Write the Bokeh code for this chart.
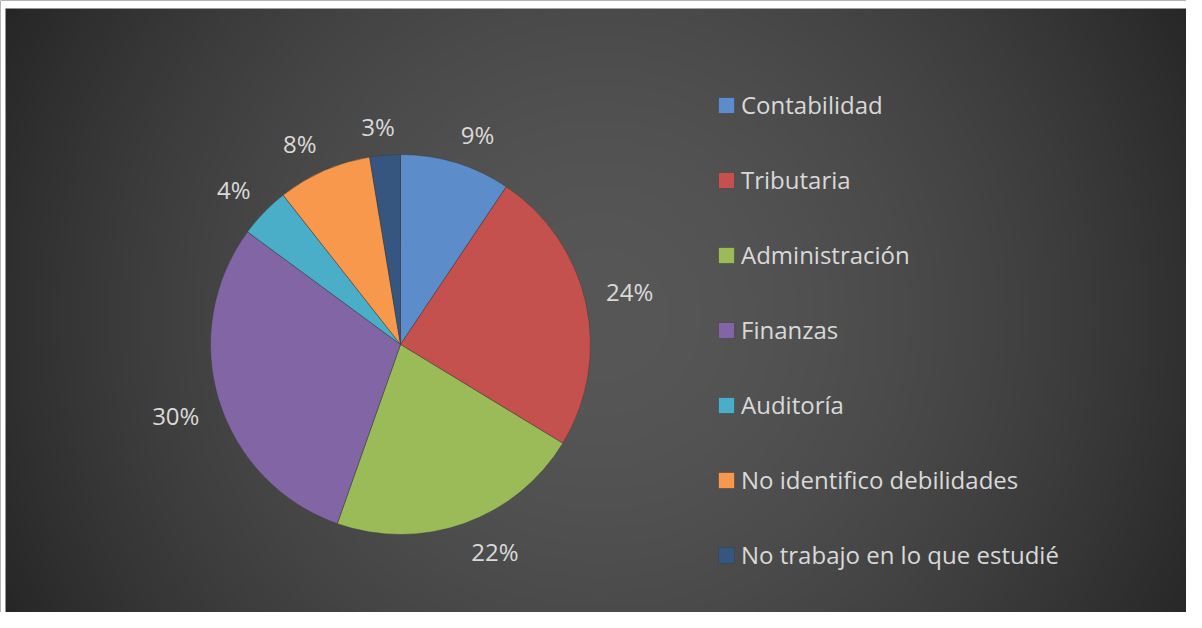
import numpy as np
from bokeh.plotting import figure
from bokeh.models import ColumnDataSource, Legend, LegendItem, Range1d
from bokeh.core.properties import value
from bokeh.embed import file_html
from bokeh.resources import INLINE

# ---- data ----
categories = ["Contabilidad", "Tributaria", "Administración", "Finanzas",
              "Auditoría", "No identifico debilidades", "No trabajo en lo que estudié"]
shares = [9.4, 24.3, 21.7, 29.7, 4.3, 8.0, 2.6]
colors = ["#5d8cca", "#c4514e", "#9bbb59", "#8165a4", "#4aaec8", "#f8984c", "#36567f"]

W, H = 1186, 612
FONT = "Open Sans"
TXT = "#d9d9d9"

p = figure(width=W, height=H, output_backend="svg", toolbar_location=None,
           x_range=Range1d(0, W), y_range=Range1d(0, H), min_border=0)
p.axis.visible = False
p.grid.visible = False
p.outline_line_color = None
p.background_fill_color = "#3a3a3a"
p.border_fill_color = "#3a3a3a"

# radial background gradient (decorative)
yy, xx = np.mgrid[0:H, 0:W]
gx, gy = 600, 297
d = np.sqrt((xx - gx) ** 2 + (yy - gy) ** 2)
v = 87 - 49 * np.clip(d / 670, 0, 1.2) ** 1.7
v = np.clip(v, 30, 90).astype(np.uint8)
img = np.zeros((H, W), dtype=np.uint32)
view = img.view(dtype=np.uint8).reshape((H, W, 4))
view[:, :, 0] = v
view[:, :, 1] = v
view[:, :, 2] = v
view[:, :, 3] = 255
view[:, :5, :3] = 255
view[H - 8:, :, :3] = 255
p.image_rgba(image=[img], x=0, y=0, dw=W, dh=H)

# pie geometry
cx, cy, R = 400, 268, 190
vals = np.array(shares, dtype=float)
frac = vals / vals.sum()
cum = np.concatenate([[0], np.cumsum(frac)])
start = np.pi / 2 - 2 * np.pi * cum[:-1]
end = np.pi / 2 - 2 * np.pi * cum[1:]
mid = (start + end) / 2
labels = [f"{round(s)}%" for s in vals]

# outside-end label placement: anchor on a ring, box pushed outward
ring = 210
ux, uy = np.cos(mid), np.sin(mid)
half_w = np.array([8.0 * len(t) for t in labels])
half_h = 9.0
lx = cx + ring * ux + half_w * np.clip(4 * ux, -1, 1)
ly = cy + ring * uy + half_h * np.clip(4 * uy, -1, 1)

src = ColumnDataSource(dict(cat=categories, color=colors, start=start, end=end,
                            lx=lx, ly=ly, label=labels))

wedges = p.wedge(x=cx, y=cy, radius=R, start_angle="start", end_angle="end",
                 direction="clock", fill_color="color", line_color="#3a3a3a",
                 line_alpha=0.6, line_width=0.8, source=src)

p.text(x="lx", y="ly", text="label", source=src, text_align="center",
       text_baseline="middle", text_font=value(FONT), text_font_size="24px",
       text_color=TXT)

items = [LegendItem(label=c, renderers=[wedges], index=i) for i, c in enumerate(categories)]
legend = Legend(items=items, location=(716, 41), orientation="vertical",
                padding=0, margin=0, spacing=42, glyph_width=20, glyph_height=20,
                label_standoff=5, label_text_font=FONT, label_text_font_size="24px",
                label_text_color=TXT, label_height=16,
                border_line_alpha=0, background_fill_alpha=0)
p.add_layout(legend)

open("out.html", "w").write(file_html(p, INLINE))
